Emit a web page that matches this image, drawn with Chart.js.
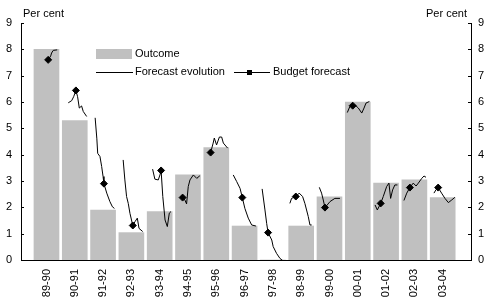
<!DOCTYPE html>
<html lang="en">
<head>
    <meta charset="UTF-8">
    <title>Outcome and forecast evolution</title>
    <script src="https://cdn.jsdelivr.net/npm/chart.js"></script>
    <style>
        body { margin: 0; background: #fff; }
        #wrap { width: 492px; height: 303px; }
    </style>
</head>
<body>
    <div id="wrap">
        <canvas id="chart" width="492" height="303"></canvas>
    </div>

    <script>
        // Financial years on the x axis
        var categories = ['89-90', '90-91', '91-92', '92-93', '93-94', '94-95', '95-96', '96-97',
                          '97-98', '98-99', '99-00', '00-01', '01-02', '02-03', '03-04'];

        // Outcome (bars), per cent
        var outcome = [8.0, 5.29, 1.9, 1.04, 1.84, 3.23, 4.27, 1.29, 0, 1.29, 2.4, 6.0, 2.92, 3.04, 2.37];

        // Budget forecast: value and where it sits inside its year (fraction of a category)
        var budgetOffset = [0.06, 0.04, 0.03, 0.05, 0.05, -0.19, -0.2, -0.08, -0.17, -0.19, -0.16, -0.18, -0.19, -0.16, -0.16];
        var budgetForecast = [7.6, 6.44, 2.9, 1.31, 3.4, 2.37, 4.08, 2.37, 1.04, 2.41, 1.99, 5.86, 2.15, 2.75, 2.75];

        // Forecast evolution for each year: [offset within year, per cent]
        var evolution = [
            [[0.06, 7.6], [0.15, 7.75], [0.18, 7.86], [0.24, 7.96], [0.38, 7.98]],
            [[-0.23, 5.97], [-0.11, 6.05], [-0.04, 6.2], [0.04, 6.44], [0.1, 6.2], [0.16, 5.77], [0.24, 5.85], [0.3, 5.64], [0.42, 5.45]],
            [[-0.28, 5.4], [-0.22, 4.6], [-0.19, 4.05], [-0.11, 3.93], [-0.05, 3.55], [0.0, 3.17], [0.03, 2.9], [0.13, 2.54], [0.24, 2.22], [0.33, 2.02], [0.4, 1.96]],
            [[-0.29, 3.8], [-0.23, 3.04], [-0.17, 2.41], [-0.11, 2.15], [-0.05, 1.77], [0.05, 1.31], [0.13, 1.46], [0.21, 1.59], [0.27, 1.2], [0.4, 1.08]],
            [[-0.25, 3.45], [-0.17, 3.07], [-0.05, 3.04], [0.01, 3.23], [0.05, 3.4], [0.11, 2.41], [0.19, 1.52], [0.27, 1.27], [0.34, 1.78], [0.4, 1.84]],
            [[-0.19, 2.37], [-0.11, 2.28], [-0.05, 2.13], [0.01, 2.79], [0.07, 3.04], [0.19, 3.23], [0.31, 3.1], [0.42, 3.2]],
            [[-0.2, 4.08], [-0.11, 4.44], [-0.07, 4.63], [0.01, 4.37], [0.11, 4.67], [0.19, 4.67], [0.25, 4.44], [0.4, 4.25]],
            [[-0.4, 3.23], [-0.28, 2.98], [-0.16, 2.72], [-0.08, 2.37], [0.01, 1.96], [0.13, 1.59], [0.25, 1.33], [0.4, 1.29]],
            [[-0.38, 2.7], [-0.28, 1.9], [-0.22, 1.39], [-0.17, 1.04], [-0.04, 0.76], [0.01, 0.51], [0.13, 0.25], [0.25, 0.06], [0.37, -0.04]],
            [[-0.4, 2.15], [-0.34, 2.34], [-0.19, 2.41], [-0.07, 2.54], [0.05, 2.41], [0.13, 2.15], [0.25, 1.65], [0.31, 1.33], [0.37, 1.33]],
            [[-0.36, 2.76], [-0.28, 2.54], [-0.22, 2.28], [-0.16, 1.99], [-0.08, 2.09], [0.02, 2.22], [0.19, 2.34], [0.37, 2.34]],
            [[-0.37, 5.6], [-0.28, 5.83], [-0.18, 5.86], [-0.1, 5.89], [0.02, 5.77], [0.14, 5.58], [0.22, 5.77], [0.29, 5.96], [0.41, 6.02]],
            [[-0.39, 2.09], [-0.31, 1.9], [-0.19, 2.15], [-0.1, 2.41], [0.02, 2.79], [0.1, 2.92], [0.16, 2.34], [0.23, 2.66], [0.31, 2.85], [0.4, 2.85]],
            [[-0.37, 2.26], [-0.27, 2.54], [-0.16, 2.75], [-0.04, 2.92], [0.06, 2.81], [0.14, 2.92], [0.26, 3.1], [0.34, 3.19], [0.41, 3.14]],
            [[-0.31, 2.54], [-0.24, 2.66], [-0.16, 2.75], [-0.04, 2.54], [0.08, 2.34], [0.2, 2.18], [0.32, 2.28], [0.43, 2.38]]
        ];

        var FONT = "'Liberation Sans', Arial, sans-serif";
        Chart.defaults.font.family = FONT;
        Chart.defaults.font.size = 11;
        Chart.defaults.color = '#000';

        // build the datasets from the arrays above
        var barData = outcome.map(function(v, i) { return { x: i, y: v }; });
        var budgetData = budgetForecast.map(function(v, i) { return { x: i + budgetOffset[i], y: v }; });
        var evolutionData = [];
        evolution.forEach(function(path, i) {
            path.forEach(function(p) { evolutionData.push({ x: i + p[0], y: p[1] }); });
            evolutionData.push({ x: i + 0.5, y: null }); // break between years
        });

        // "Per cent" labels, inward tick marks and the legend
        var decorations = {
            id: 'decorations',
            afterDraw: function(chart) {
                var ctx = chart.ctx;
                var area = chart.chartArea;
                ctx.save();
                ctx.font = '11px ' + FONT;
                ctx.fillStyle = '#000';
                ctx.textBaseline = 'middle';
                ctx.textAlign = 'left';
                ctx.fillText('Per cent', 23, 14);
                ctx.textAlign = 'right';
                ctx.fillText('Per cent', 467, 14);

                // tick marks pointing into the plot
                ctx.strokeStyle = '#000';
                ctx.lineWidth = 1;
                var ys = chart.scales.y;
                ys.ticks.forEach(function(t) {
                    var py = Math.round(ys.getPixelForValue(t.value)) + 0.5;
                    ctx.beginPath();
                    ctx.moveTo(area.left, py); ctx.lineTo(area.left + 3, py);
                    ctx.moveTo(area.right - 3, py); ctx.lineTo(area.right, py);
                    ctx.stroke();
                });

                // legend
                ctx.textAlign = 'left';
                ctx.fillStyle = '#c0c0c0';
                ctx.fillRect(96, 49, 36, 10);
                ctx.fillStyle = '#000';
                ctx.fillText('Outcome', 135, 54);

                ctx.beginPath();
                ctx.moveTo(96, 72.5); ctx.lineTo(133, 72.5);
                ctx.stroke();
                ctx.fillText('Forecast evolution', 135, 72);

                ctx.beginPath();
                ctx.moveTo(234, 72.5); ctx.lineTo(270, 72.5);
                ctx.stroke();
                ctx.fillRect(247, 70, 5, 5);
                ctx.fillText('Budget forecast', 273, 72);
                ctx.restore();
            }
        };

        var ctx = document.getElementById('chart').getContext('2d');
        var chart = new Chart(ctx, {
            type: 'bar',
            data: {
                datasets: [
                    {
                        type: 'line',
                        label: 'Budget forecast',
                        data: budgetData,
                        showLine: false,
                        pointStyle: 'rectRot',
                        pointRadius: 3.5,
                        backgroundColor: '#000',
                        borderColor: '#000',
                        order: 1
                    },
                    {
                        type: 'line',
                        label: 'Forecast evolution',
                        data: evolutionData,
                        borderColor: '#000',
                        borderWidth: 1,
                        pointRadius: 0,
                        tension: 0,
                        spanGaps: false,
                        order: 2
                    },
                    {
                        type: 'bar',
                        label: 'Outcome',
                        data: barData,
                        backgroundColor: '#c0c0c0',
                        borderWidth: 0,
                        barThickness: 25,
                        order: 3
                    }
                ]
            },
            options: {
                responsive: false,
                animation: false,
                layout: { padding: { top: 23 } },
                plugins: {
                    legend: { display: false },
                    tooltip: { enabled: false }
                },
                scales: {
                    x: {
                        type: 'linear',
                        min: -0.9,
                        max: 15,
                        offset: false,
                        grid: { display: false, drawTicks: false },
                        border: { color: '#000', width: 1 },
                        afterBuildTicks: function(axis) {
                            axis.ticks = categories.map(function(c, i) { return { value: i }; });
                        },
                        afterFit: function(axis) { axis.height = 43; },
                        ticks: {
                            autoSkip: false,
                            minRotation: 90,
                            maxRotation: 90,
                            padding: 9,
                            callback: function(v) { return categories[v]; }
                        }
                    },
                    y: {
                        position: 'left',
                        min: 0,
                        max: 9,
                        grid: { display: false, drawTicks: false },
                        border: { color: '#000', width: 1 },
                        afterFit: function(axis) { axis.width = 21; },
                        ticks: { stepSize: 1, padding: 9 }
                    },
                    y2: {
                        position: 'right',
                        min: 0,
                        max: 9,
                        grid: { display: false, drawTicks: false },
                        border: { color: '#000', width: 1 },
                        afterFit: function(axis) { axis.width = 21; },
                        ticks: { stepSize: 1, padding: 7 }
                    }
                }
            },
            plugins: [decorations]
        });
    </script>
</body>
</html>
